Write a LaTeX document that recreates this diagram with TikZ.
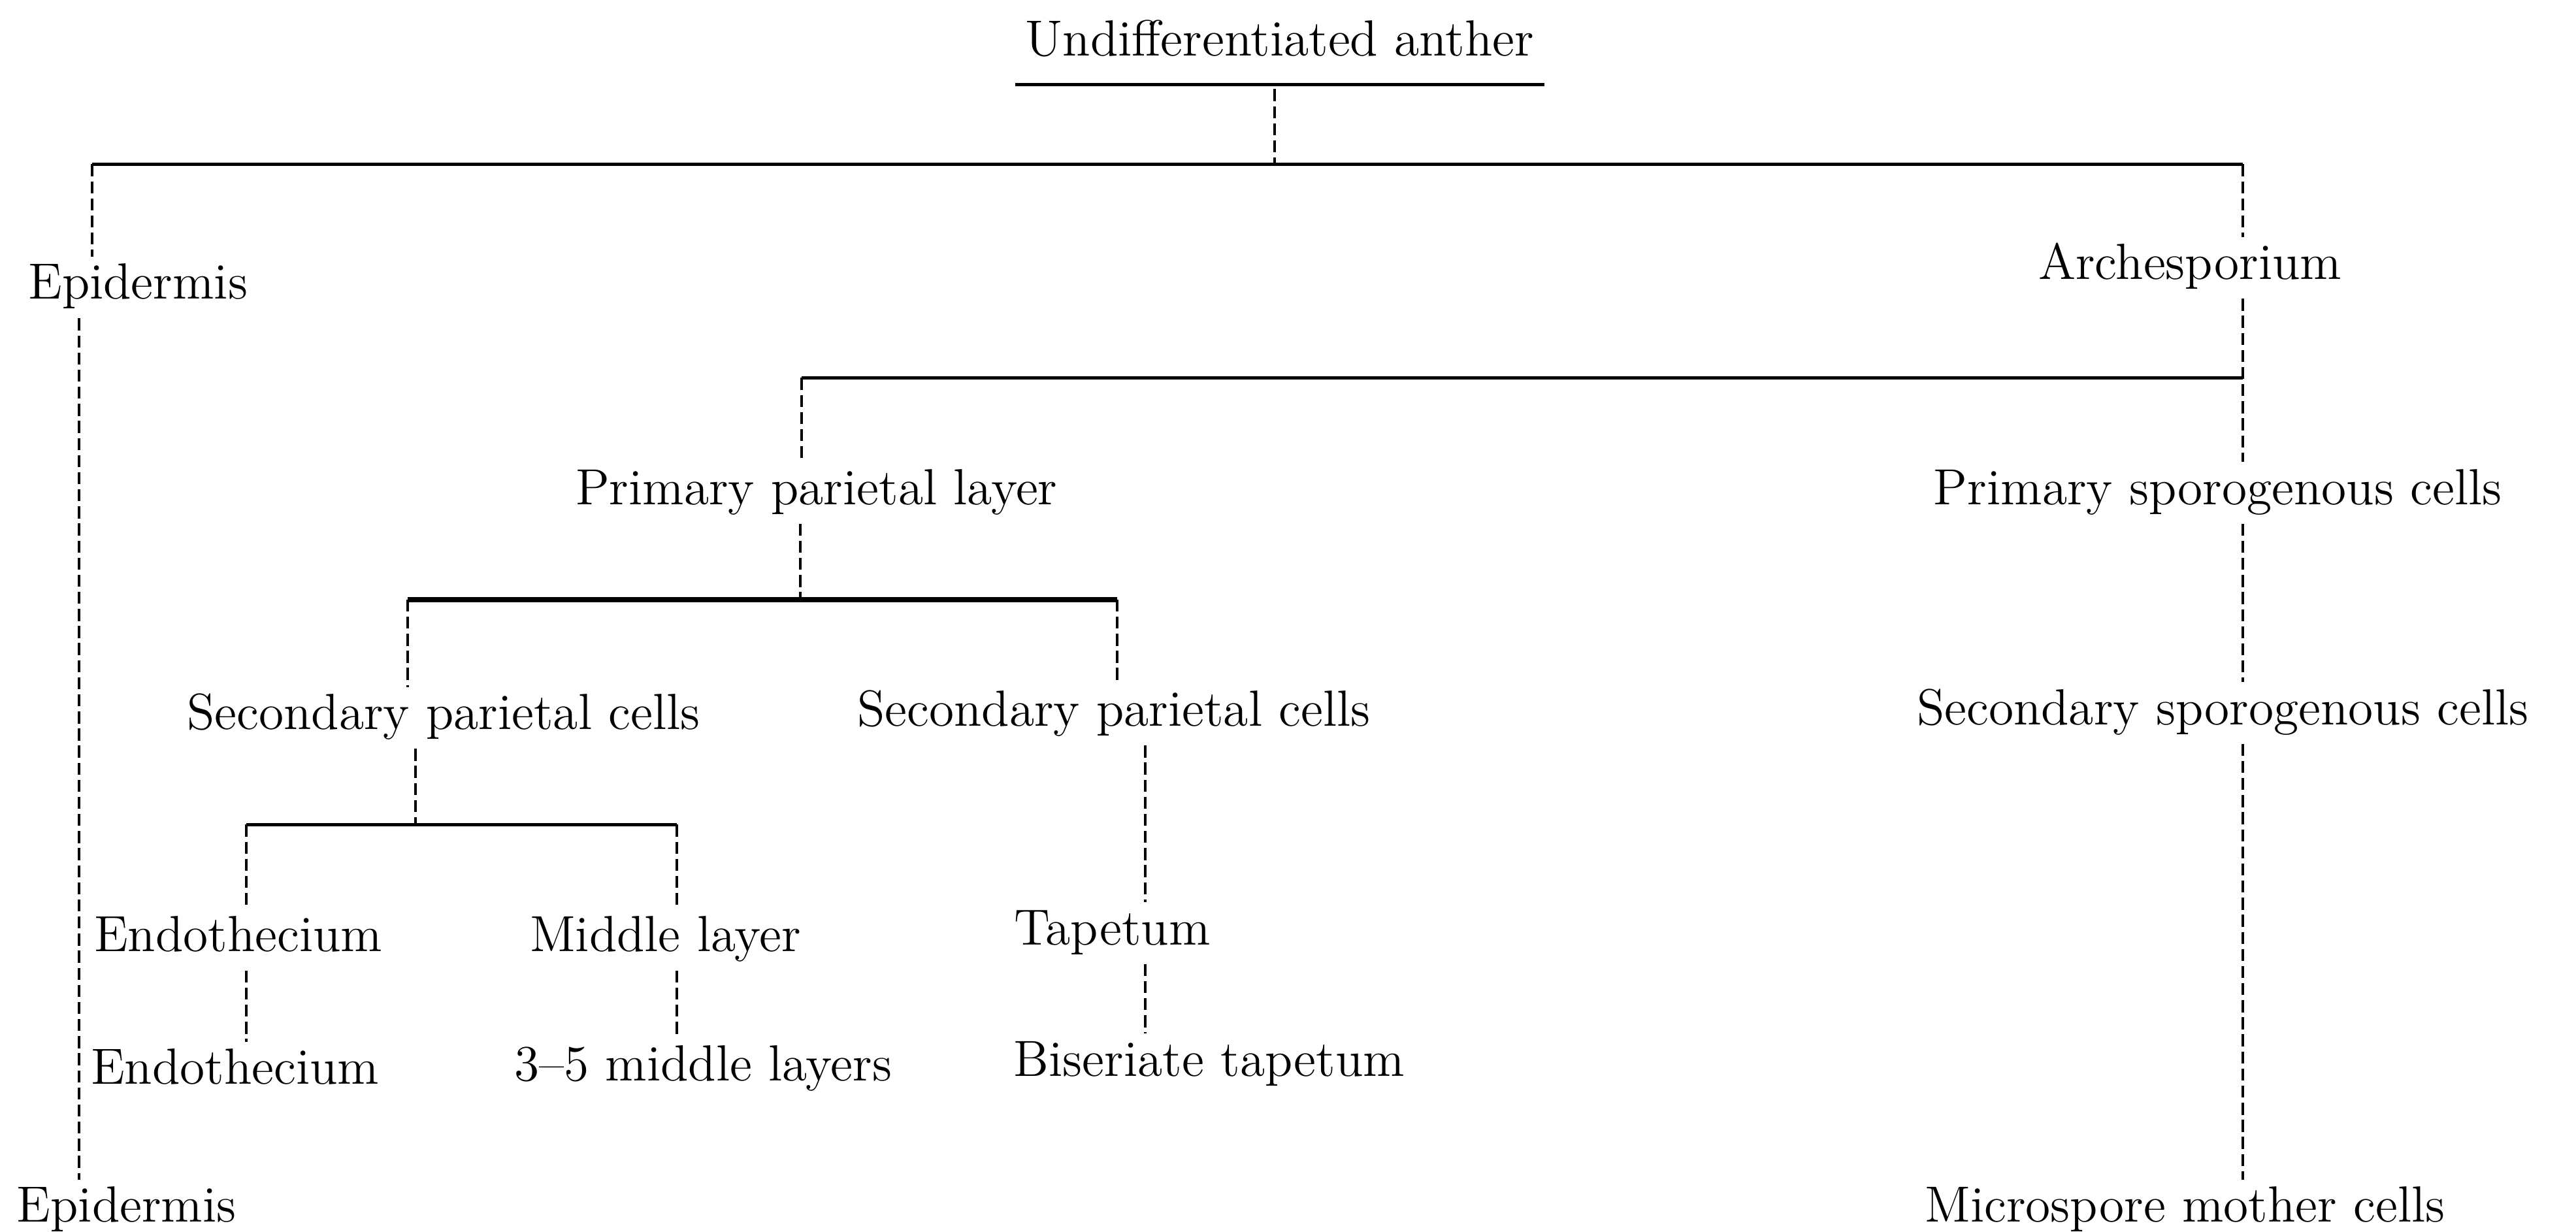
\documentclass[tikz,border=0pt]{standalone}
\usetikzlibrary{calc}

\tikzset{
  tissue/.style={inner sep=2pt, text height=7pt, text depth=2pt,
    font=\fontsize{11}{13}\selectfont},
  splitbar/.style={line width=0.7pt},
  heavybar/.style={line width=1.1pt},
  lineage/.style={line width=0.55pt, dash pattern=on 2.6pt off 1.1pt}
}

\begin{document}
\begin{tikzpicture}[x=0.125mm, y=-0.125mm]
  \useasboundingbox (0,0) rectangle (1568,750);

  % --- tissues ---
  \node[tissue] (anther) at (779,27)  {Undifferentiated anther};
  \node[tissue] (epiA)   at (84,175)  {Epidermis};
  \node[tissue] (arch)   at (1333,163) {Archesporium};
  \node[tissue] (ppl)    at (497,300) {Primary parietal layer};
  \node[tissue] (psc)    at (1350,300) {Primary sporogenous cells};
  \node[tissue] (spcL)   at (270,437) {Secondary parietal cells};
  \node[tissue] (spcR)   at (678,435) {Secondary parietal cells};
  \node[tissue] (ssc)    at (1353,434) {Secondary sporogenous cells};
  \node[tissue] (endoA)  at (145,572) {Endothecium};
  \node[tissue] (mid)    at (405,572) {Middle layer};
  \node[tissue] (tap)    at (677,568) {Tapetum};
  \node[tissue] (endoB)  at (143,653) {Endothecium};
  \node[tissue] (mid35)  at (428,651) {3--5 middle layers};
  \node[tissue] (bis)    at (736,648) {Biseriate tapetum};
  \node[tissue] (epiB)   at (77,737)  {Epidermis};
  \node[tissue] (msc)    at (1330,737) {Microspore mother cells};

  % --- branch points ---
  \coordinate (b1l) at (56,100);
  \coordinate (b1m) at (776,100);
  \coordinate (b1r) at (1365,100);
  \coordinate (b2l) at (488,230);
  \coordinate (b2r) at (1365,230);
  \coordinate (b3l) at (248,365);
  \coordinate (b3m) at (487,365);
  \coordinate (b3r) at (680,365);
  \coordinate (b4l) at (150,502);
  \coordinate (b4m) at (253,502);
  \coordinate (b4r) at (412,502);
  \coordinate (tapx) at (697,0);
  \coordinate (epix) at (48,0);

  % ---------------- bars ----------------
  \draw[splitbar] ([yshift=-2pt]anther.south west) -- ([yshift=-2pt]anther.south east);
  \draw[splitbar] (b1l) -- (b1r);
  \draw[splitbar] (b2l) -- (b2r);
  \draw[heavybar] (b3l) -- (b3r);
  \draw[splitbar] (b4l) -- (b4r);

  % ---------------- lineages ----------------
  \draw[lineage] ([yshift=-3pt]anther.south -| b1m) -- (b1m);
  \draw[lineage] (b1l) -- (b1l |- epiA.north);
  \draw[lineage] (b1r) -- (b1r |- arch.north);
  \draw[lineage] (arch.south -| b2r) -- (b2r |- psc.north);
  \draw[lineage] (b2l) -- (b2l |- ppl.north);
  \draw[lineage] (ppl.south -| b3m) -- (b3m);
  \draw[lineage] (b3l) -- (b3l |- spcL.north);
  \draw[lineage] (b3r) -- (b3r |- spcR.north);
  \draw[lineage] (spcL.south -| b4m) -- (b4m);
  \draw[lineage] (b4l) -- (b4l |- endoA.north);
  \draw[lineage] (b4r) -- (b4r |- mid.north);
  \draw[lineage] (endoA.south -| b4l) -- (b4l |- endoB.north);
  \draw[lineage] (mid.south -| b4r) -- (b4r |- mid35.north);
  \draw[lineage] (spcR.south -| tapx) -- (tapx |- tap.north);
  \draw[lineage] (tap.south -| tapx) -- (tapx |- bis.north);
  \draw[lineage] (psc.south -| b2r) -- (b2r |- ssc.north);
  \draw[lineage] (ssc.south -| b2r) -- (b2r |- msc.north);
  \draw[lineage] (epiA.south -| epix) -- (epix |- epiB.north);

\end{tikzpicture}
\end{document}
